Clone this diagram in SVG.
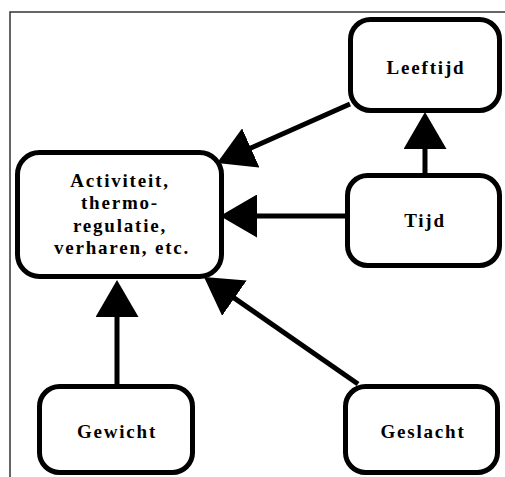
<svg xmlns="http://www.w3.org/2000/svg" width="505" height="477" viewBox="0 0 505 477">
  <style>
    .frame { stroke: #333; stroke-width: 1.5; fill: none; }
    .box { fill: #fff; stroke: #000; stroke-width: 5; }
    .label { font-family: "Liberation Serif", "Times New Roman", serif; font-weight: bold; font-size: 19px; letter-spacing: 1.8px; text-anchor: middle; fill: #000; }
    .edge { stroke: #000; stroke-width: 5; fill: none; marker-end: url(#head); }
  </style>
  <defs>
    <marker id="head" viewBox="0 0 37 43" refX="32" refY="21.5" markerWidth="37" markerHeight="43" markerUnits="userSpaceOnUse" orient="auto">
      <path d="M0,0 L37,21.5 L0,43 Z" fill="#000"/>
    </marker>
  </defs>
  <rect width="505" height="477" fill="#fff"/>

  <!-- page frame -->
  <path class="frame" d="M10,477 V12 H505"/>

  <!-- connectors -->
  <g id="connectors">
    <line class="edge" x1="350" y1="104" x2="221.6" y2="161"/>
    <line class="edge" x1="345" y1="216" x2="225" y2="216"/>
    <line class="edge" x1="425" y1="173" x2="425" y2="117"/>
    <line class="edge" x1="117" y1="384" x2="117" y2="285"/>
    <line class="edge" x1="358" y1="384" x2="208.1" y2="279.9"/>
  </g>

  <g id="leeftijd">
    <rect class="box" x="350.5" y="19.5" width="149" height="91" rx="20"/>
    <text class="label" x="426" y="74">Leeftijd</text>
  </g>

  <g id="activiteit">
    <rect class="box" x="17.5" y="152.5" width="204" height="124" rx="22"/>
    <text class="label" x="120" y="187">Activiteit,</text>
    <text class="label" x="120" y="209">thermo-</text>
    <text class="label" x="120" y="232">regulatie,</text>
    <text class="label" x="122" y="254">verharen, etc.</text>
  </g>

  <g id="tijd">
    <rect class="box" x="347.5" y="175.5" width="152" height="90" rx="20"/>
    <text class="label" x="425" y="227">Tijd</text>
  </g>

  <g id="gewicht">
    <rect class="box" x="39.5" y="386.5" width="153" height="86" rx="20"/>
    <text class="label" x="117" y="438">Gewicht</text>
  </g>

  <g id="geslacht">
    <rect class="box" x="345.5" y="386.5" width="152" height="86" rx="20"/>
    <text class="label" x="423" y="438">Geslacht</text>
  </g>
</svg>
